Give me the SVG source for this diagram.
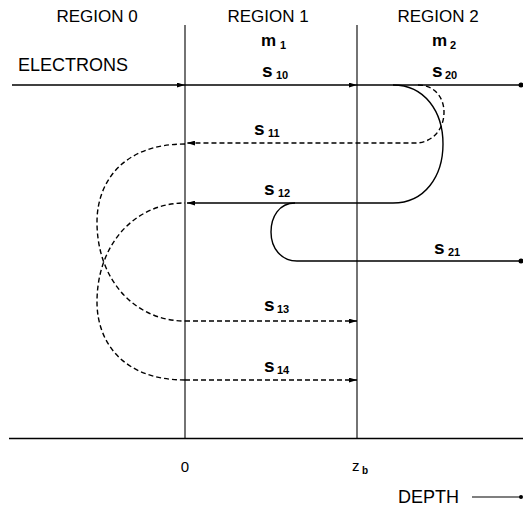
<svg xmlns="http://www.w3.org/2000/svg" width="523" height="510" viewBox="0 0 523 510">
<defs>
<marker id="ah" viewBox="0 0 10 6" refX="10" refY="3" markerWidth="8" markerHeight="5" markerUnits="userSpaceOnUse" orient="auto">
<path d="M0,0 L10,3 L0,6 Z" fill="#000"/>
</marker>
</defs>
<style>
text{font-family:"Liberation Sans",Arial,sans-serif;fill:#000}
.reg{font-size:17px;text-anchor:middle}
.sym{font-size:19px;font-weight:bold}
.m{font-size:17px;font-weight:bold}
.sub{font-size:11px;font-weight:bold}
.ln{stroke:#000;stroke-width:1.4;fill:none}
.thin{stroke:#000;stroke-width:1.1;fill:none}
.dash{stroke:#000;stroke-width:1.4;fill:none;stroke-dasharray:5 3}
.dot{fill:#000}
</style>
<rect width="523" height="510" fill="#fff"/>
<g id="frame">
<line class="thin" x1="185" y1="25" x2="185" y2="439"/>
<line class="thin" x1="357" y1="25" x2="357" y2="439"/>
<line class="ln" x1="9" y1="438.5" x2="523" y2="438.5"/>
</g>
<g id="labels">
<text class="reg" x="97" y="22">REGION 0</text>
<text class="reg" x="268" y="22">REGION 1</text>
<text class="reg" x="438" y="22">REGION 2</text>
<text x="18" y="71" style="font-size:18px">ELECTRONS</text>
<text class="m" x="261" y="46">m</text><text class="sub" x="280" y="49">1</text>
<text class="m" x="432" y="46">m</text><text class="sub" x="450" y="49">2</text>
<text class="sym" x="262" y="77">s</text><text class="sub" x="276" y="79">10</text>
<text class="sym" x="432" y="77">s</text><text class="sub" x="445" y="79">20</text>
<text class="sym" x="254" y="135">s</text><text class="sub" x="268" y="137">11</text>
<text class="sym" x="264" y="195">s</text><text class="sub" x="278" y="197">12</text>
<text class="sym" x="434" y="254">s</text><text class="sub" x="448" y="256">21</text>
<text class="sym" x="264" y="311">s</text><text class="sub" x="277" y="313">13</text>
<text class="sym" x="264" y="372">s</text><text class="sub" x="277" y="374">14</text>
<text x="185" y="472" style="font-size:15px;text-anchor:middle">0</text>
<text x="352" y="471" style="font-size:15px">z</text><text x="362" y="474" style="font-size:10px;font-weight:bold">b</text>
<text x="398" y="503" style="font-size:18px">DEPTH</text>
</g>
<g id="connectors">
<line class="ln" x1="12" y1="85" x2="185" y2="85" marker-end="url(#ah)"/>
<line class="ln" x1="185" y1="85" x2="357" y2="85" marker-end="url(#ah)"/>
<line class="ln" x1="357" y1="85" x2="521" y2="85"/>
<circle class="dot" cx="521" cy="85" r="2.5"/>
<path class="dash" d="M418,85 C435,85 444,98 444,112 C444,130 432,143 415,143 L187,143" marker-end="url(#ah)"/>
<path class="ln" d="M393,85 C425,85 443,112 443,144 C443,176 425,203 393,203 L187,203" marker-end="url(#ah)"/>
<path class="dash" d="M185,144 C123,144 97,182 97,222 C97,280 135,321 185,321"/>
<path class="dash" d="M185,380 C123,380 97,342 97,302 C97,244 135,203 185,203"/>
<line class="dash" x1="185" y1="321" x2="357" y2="321" marker-end="url(#ah)"/>
<line class="dash" x1="185" y1="380" x2="357" y2="380" marker-end="url(#ah)"/>
<path class="ln" d="M295,203 C279,203 271,217 271,232 C271,248 281,261 297,261 L521,261"/>
<circle class="dot" cx="521" cy="261" r="2.5"/>
<line class="thin" x1="472" y1="497" x2="521" y2="497"/>
<circle class="dot" cx="521" cy="497" r="2"/>
</g>
</svg>
